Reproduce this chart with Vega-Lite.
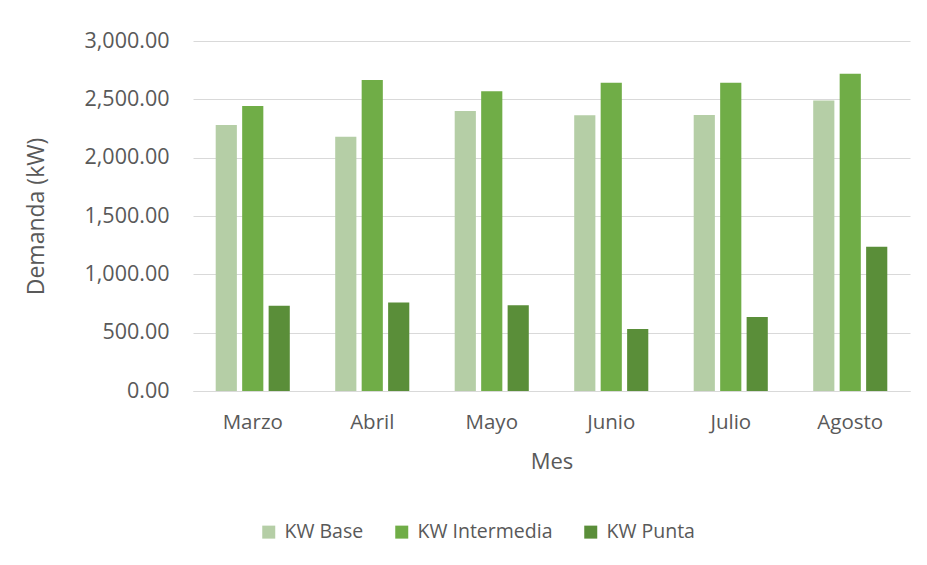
{
  "$schema": "https://vega.github.io/schema/vega-lite/v6.json",
  "width": 717,
  "height": 350,
  "autosize": {"type": "none"},
  "padding": {"left": 193, "top": 41, "right": 17, "bottom": 174},
  "background": "white",
  "config": {
    "view": {"stroke": null},
    "font": "Open Sans",
    "axis": {"labelColor": "#595959", "titleColor": "#595959", "labelFont": "Open Sans", "titleFont": "Open Sans", "titleFontWeight": "normal"},
    "legend": {"labelColor": "#595959", "labelFont": "Open Sans"}
  },
  "data": {
    "values": [
      {"Mes": "Marzo", "Serie": "KW Base", "kW": 2280},
      {"Mes": "Marzo", "Serie": "KW Intermedia", "kW": 2443},
      {"Mes": "Marzo", "Serie": "KW Punta", "kW": 730},
      {"Mes": "Abril", "Serie": "KW Base", "kW": 2180},
      {"Mes": "Abril", "Serie": "KW Intermedia", "kW": 2666},
      {"Mes": "Abril", "Serie": "KW Punta", "kW": 759},
      {"Mes": "Mayo", "Serie": "KW Base", "kW": 2400},
      {"Mes": "Mayo", "Serie": "KW Intermedia", "kW": 2569},
      {"Mes": "Mayo", "Serie": "KW Punta", "kW": 736},
      {"Mes": "Junio", "Serie": "KW Base", "kW": 2364},
      {"Mes": "Junio", "Serie": "KW Intermedia", "kW": 2643},
      {"Mes": "Junio", "Serie": "KW Punta", "kW": 531},
      {"Mes": "Julio", "Serie": "KW Base", "kW": 2366},
      {"Mes": "Julio", "Serie": "KW Intermedia", "kW": 2643},
      {"Mes": "Julio", "Serie": "KW Punta", "kW": 634},
      {"Mes": "Agosto", "Serie": "KW Base", "kW": 2489},
      {"Mes": "Agosto", "Serie": "KW Intermedia", "kW": 2720},
      {"Mes": "Agosto", "Serie": "KW Punta", "kW": 1236}
    ]
  },
  "mark": {"type": "bar"},
  "encoding": {
    "x": {
      "field": "Mes", "type": "nominal",
      "sort": ["Marzo", "Abril", "Mayo", "Junio", "Julio", "Agosto"],
      "scale": {"paddingInner": 0.38, "paddingOuter": 0.19},
      "axis": {
        "title": "Mes", "labelAngle": 0, "labelFontSize": 20.5, "titleFontSize": 22,
        "labelPadding": 21, "titlePadding": 19, "ticks": false,
        "domainColor": "#d9d9d9", "domainWidth": 1
      }
    },
    "xOffset": {
      "field": "Serie", "type": "nominal",
      "sort": ["KW Base", "KW Intermedia", "KW Punta"],
      "scale": {"paddingInner": 0.2, "paddingOuter": 0}
    },
    "y": {
      "field": "kW", "type": "quantitative",
      "scale": {"domain": [0, 3000], "nice": false},
      "axis": {
        "title": "Demanda (kW)", "format": ",.2f",
        "values": [0, 500, 1000, 1500, 2000, 2500, 3000],
        "labelFontSize": 21.5, "titleFontSize": 23,
        "labelPadding": 24, "titlePadding": 36,
        "ticks": false, "domain": false,
        "gridColor": "#d9d9d9", "gridWidth": 1.2
      }
    },
    "color": {
      "field": "Serie", "type": "nominal",
      "sort": ["KW Base", "KW Intermedia", "KW Punta"],
      "scale": {"domain": ["KW Base", "KW Intermedia", "KW Punta"], "range": ["#B5CEA6", "#70AD47", "#5A8E39"]},
      "legend": {
        "title": null, "orient": "none", "direction": "horizontal",
        "legendX": 66, "legendY": 481,
        "symbolType": "square", "symbolSize": 169, "symbolStrokeWidth": 0,
        "labelFontSize": 19.5, "labelOffset": 6, "columnPadding": 28
      }
    }
  }
}
